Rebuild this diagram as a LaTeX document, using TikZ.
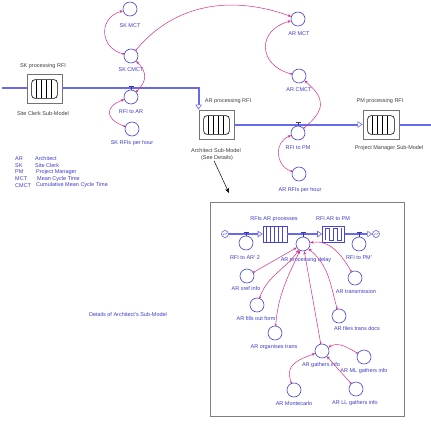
\documentclass[tikz,border=0pt]{standalone}
\usepackage{fontspec}
\setmainfont{Liberation Sans}
\usetikzlibrary{arrows.meta}
\definecolor{cblue}{RGB}{70,70,215}
\definecolor{tblue}{RGB}{60,60,205}
\definecolor{fblue}{RGB}{105,105,235}
\definecolor{cpink}{RGB}{215,45,140}
\begin{document}
\begin{tikzpicture}[x=1pt,y=1pt,
  conv/.style={circle,draw=cblue,line width=0.6pt,minimum size=14pt,inner sep=0pt},
  cloud/.style={circle,draw=cblue,line width=0.5pt,minimum size=7pt,inner sep=0pt},
  lbl/.style={font=\fontsize{5.5}{6.3}\selectfont,text=tblue,inner sep=0pt},
  mlbl/.style={font=\fontsize{5.5}{6.3}\selectfont,text=black!75,inner sep=0pt},
  flow/.style={draw=fblue,line width=2pt},
  dflow/.style={draw=fblue,line width=1.5pt},
  ftip/.style={arrows={-Triangle[length=5pt,width=6.5pt,line width=0.6pt,fill=white]}},
  conn/.style={draw=cpink,line width=0.5pt,arrows={Circle[length=1.8pt]-Stealth[length=3.2pt,width=2.8pt]}},
  modbox/.style={rectangle,draw=black!55,line width=0.8pt,fill=white,minimum width=35pt,minimum height=29pt,inner sep=0pt},
  valve/.style={draw=cblue!80!black,line width=0.5pt},
  blk/.style={rectangle,draw=cblue,line width=0.6pt,minimum height=16pt,inner sep=0pt}
]
\useasboundingbox (0,0) rectangle (431,424);
\fill[white] (0,0) rectangle (431,424);

% ---------- top level modules ----------
\node[modbox] (skbox) at (44.5,335.5) {};
\node[modbox] (arbox) at (216.5,299.5) {};
\node[modbox,minimum width=36pt] (pmbox) at (381,299.5) {};
\foreach \b in {skbox,arbox,pmbox}{
  \draw[black,line width=0.6pt,rounded corners=3.5pt] ([shift={(5,-6)}]\b.north west) rectangle ([shift={(-5,5)}]\b.south east);
  \foreach \k in {1,2,3,4}
    \draw[black,line width=0.5pt] ([shift={(5+5*\k,-6)}]\b.north west) -- ([shift={(5+5*\k,5)}]\b.south west);
}

\node[mlbl] (sklp) at (43,358) {SK processing RFI};
\node[mlbl] (skls) at (43,310) {Site Clerk Sub-Model};
\node[mlbl] (arlp) at (228,323) {AR processing RFI};
\node[mlbl] (arls) at (216,273) {Architect Sub-Model};
\node[mlbl] (seedet) at (217,266) {(See Details)};
\node[mlbl] (pmlp) at (380,323) {PM processing RFI};
\node[mlbl] (pmls) at (389,276) {Project Manager Sub-Model};

% flows
\coordinate (inL) at (2,335.5);
\coordinate (outR) at (431,299.5);
\draw[flow] (inL) -- (skbox.west);
\draw[flow,ftip] (skbox.east) -| (arbox.north west);
\draw[flow,ftip] (arbox.east) -- (pmbox.west);
\draw[flow] (pmbox.east) -- (outR);

% converters
\node[conv] (skmct) at (130,415) {};
\node[conv] (skcmct) at (131,368) {};
\node[conv] (rfitoar) at (131,327) {};
\node[conv] (skrfis) at (132,295) {};
\node[conv] (armct) at (298,405) {};
\node[conv] (arcmct) at (299,348) {};
\node[conv] (rfitopm) at (298,291) {};
\node[conv] (arrfis) at (299,250) {};

\node[lbl] (lskmct) at (130,398) {SK MCT};
\node[lbl] (lskcmct) at (131,354) {SK CMCT};
\node[lbl] (lrfitoar) at (131,312) {RFI to AR};
\node[lbl] (lskrfis) at (132,281) {SK RFIs per hour};
\node[lbl] (larmct) at (299,390) {AR MCT};
\node[lbl] (larcmct) at (299,334) {AR CMCT};
\node[lbl] (lrfitopm) at (298,276) {RFI to PM};
\node[lbl] (larrfis) at (300,234) {AR RFIs per hour};

% valves
\draw[valve] (128.5,338) -- (133.5,338) (131,338) -- (rfitoar.north);
\draw[valve] (295.5,302) -- (300.5,302) (298,302) -- (rfitopm.north);

% connectors
\draw[conn] (skcmct) to[out=165,in=195,looseness=1.5] (skmct);
\draw[conn] (rfitoar) to[out=45,in=-45,looseness=1.3] (skcmct);
\draw[conn] (skrfis) to[out=160,in=200,looseness=2] (rfitoar);
\draw[conn] (skcmct) to[out=50,in=160] (armct);
\draw[conn] (arcmct) to[out=165,in=195,looseness=1.7] (armct);
\draw[conn] (rfitopm) to[out=40,in=-40,looseness=1.5] (arcmct);
\draw[conn] (arrfis) to[out=160,in=200,looseness=1.3] (rfitopm);

% legend
\node[lbl,anchor=west] (lg1a) at (15,265) {AR};
\node[lbl,anchor=west] (lg1b) at (35,265) {Architect};
\node[lbl,anchor=west] (lg2a) at (15,258.5) {SK};
\node[lbl,anchor=west] (lg2b) at (35,258.5) {Site Clerk};
\node[lbl,anchor=west] (lg3a) at (15,252) {PM};
\node[lbl,anchor=west] (lg3b) at (36,252) {Project Manager};
\node[lbl,anchor=west] (lg4a) at (15,245) {MCT};
\node[lbl,anchor=west] (lg4b) at (37,245) {Mean Cycle Time};
\node[lbl,anchor=west] (lg5a) at (15,238.5) {CMCT};
\node[lbl,anchor=west] (lg5b) at (36,238.5) {Cumulative Mean Cycle Time};

\node[lbl] (dettitle) at (128,109) {Details of Architect's Sub-Model};

% pointer arrow
\coordinate (ptrend) at (229,231);
\draw[black,line width=0.5pt,arrows={-Stealth[length=5pt,width=4pt]}] ([xshift=-3]seedet.south) -- (ptrend);

% ---------- details box ----------
\node[draw=black!50,line width=0.8pt,minimum width=194pt,minimum height=214pt,inner sep=0pt] (detbox) at (307,115) {};

\node[cloud] (src) at (225,190) {};
\node[cloud] (snk) at (376,190) {};
\draw[cblue,line width=0.4pt] (223,189) .. controls (224,192) and (226,188) .. (227,191);
\draw[cblue,line width=0.4pt] (374,189) .. controls (375,192) and (377,188) .. (378,191);

\node[blk,minimum width=24pt] (cv1) at (275,190) {};
\foreach \k in {1,...,5}
  \draw[cblue,line width=0.5pt] ([shift={(4*\k,0)}]cv1.north west) -- ([shift={(4*\k,0)}]cv1.south west);
\node[blk,minimum width=22pt] (ov1) at (333.5,190) {};
\draw[cblue,line width=0.5pt] ([shift={(3,2)}]ov1.south west) -- ++(0,12) -- ++(4,0) -- ++(0,-12) -- ++(4,0) -- ++(0,12) -- ++(4,0) -- ++(0,-12) -- ++(4,0) -- ++(0,12);

\node[mlbl,text=tblue] (lcv1) at (274,205) {RFIs AR processes};
\node[mlbl,text=tblue] (lov1) at (333,205) {RFI AR to PM};

\draw[dflow,ftip] (src.east) -- (cv1.west);
\draw[dflow,ftip] (cv1.east) -- (ov1.west);
\draw[dflow,ftip] (ov1.east) -- (snk.west);

\node[conv] (rfitoar2) at (246,181) {};
\node[conv] (delay) at (303,180) {};
\node[conv] (rfitopm2) at (359,180) {};
\node[conv] (xref) at (247,148) {};
\node[conv] (transm) at (355,146) {};
\node[conv] (fills) at (257,119) {};
\node[conv] (files) at (339,108) {};
\node[conv] (organ) at (275,91) {};
\node[conv] (gathers) at (322,73) {};
\node[conv] (mlg) at (364,67) {};
\node[conv] (monte) at (294,34) {};
\node[conv] (llg) at (356,35) {};

\draw[valve] (243.5,192) -- (248.5,192) (246,192) -- (rfitoar2.north);
\draw[valve] (300.5,192) -- (305.5,192) (303,192) -- (delay.north);
\draw[valve] (356.5,192) -- (361.5,192) (359,192) -- (rfitopm2.north);

\node[lbl] (lrfitoar2) at (245,166) {RFI to AR' 2};
\node[lbl] (ldelay) at (306,164) {AR processing delay};
\node[lbl] (lrfitopm2) at (359,166) {RFI to PM'};
\node[lbl] (lxref) at (246,135) {AR xref info};
\node[lbl] (ltransm) at (356,132) {AR transmission};
\node[lbl] (lfills) at (256,105) {AR fills out form};
\node[lbl] (lfiles) at (357,95) {AR files trans docs};
\node[lbl] (lorgan) at (274,77) {AR organises trans};
\node[lbl] (lgathers) at (321,59) {AR gathers info};
\node[lbl] (lmlg) at (364,53) {AR ML gathers info};
\node[lbl] (lmonte) at (294,20) {AR Montecarlo};
\node[lbl] (lllg) at (355,21) {AR LL gathers info};

\draw[conn] (xref) -- (delay);
\draw[conn] (fills) to[out=70,in=235] (delay);
\draw[conn] (organ) to[out=85,in=245] (delay);
\draw[conn] (gathers) -- (delay);
\draw[conn] (files) to[out=105,in=-40] (delay);
\draw[conn] (transm) to[out=120,in=10] (delay);
\draw[conn] (mlg) to[out=150,in=30] (gathers);
\draw[conn] (llg) -- (gathers);
\draw[conn] (monte) to[out=110,in=200,looseness=1.3] (gathers);
\end{tikzpicture}
\end{document}
